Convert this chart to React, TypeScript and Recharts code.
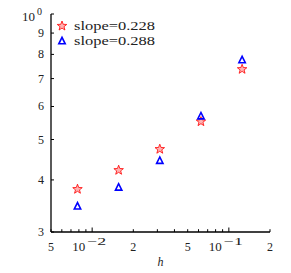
import { ScatterChart, Scatter, XAxis, YAxis, Legend } from 'recharts';

const hValues = [1 / 128, 1 / 64, 1 / 32, 1 / 16, 1 / 8];
const starValues = [3.8, 4.22, 4.74, 5.52, 7.37];
const triangleValues = [3.46, 3.84, 4.45, 5.69, 7.76];
const seriesNames = ['slope=0.228', 'slope=0.288'];

const xTicks = [
  0.005, 0.006, 0.007, 0.008, 0.009, 0.01, 0.02, 0.03, 0.04, 0.05, 0.06, 0.07, 0.08, 0.09, 0.1, 0.2
];
const xLabels: Array<{ value: number; base: string; sup?: string }> = [
  { value: 0.005, base: '5' },
  { value: 0.01, base: '10', sup: '−2' },
  { value: 0.02, base: '2' },
  { value: 0.05, base: '5' },
  { value: 0.1, base: '10', sup: '−1' },
  { value: 0.2, base: '2' }
];
const yTicks = [3, 4, 5, 6, 7, 8, 9, 10];
const yLabels: Array<{ value: number; base: string; sup?: string }> = [
  { value: 3, base: '3' },
  { value: 4, base: '4' },
  { value: 5, base: '5' },
  { value: 6, base: '6' },
  { value: 7, base: '7' },
  { value: 8, base: '8' },
  { value: 9, base: '9' },
  { value: 10, base: '10', sup: '0' }
];

const starData = hValues.map((h, i) => ({ h, v: starValues[i] }));
const triangleData = hValues.map((h, i) => ({ h, v: triangleValues[i] }));

const FONT = '"Liberation Serif", serif';
const TEXT = '#222';
const near = (a: number, b: number) => Math.abs(a - b) < 1e-9;
const isMajor = (v: number) => near(v, 0.01) || near(v, 0.1);

function starPath(cx: number, cy: number, r: number) {
  const pts: string[] = [];
  for (let i = 0; i < 10; i++) {
    const rad = i % 2 === 0 ? r : r * 0.42;
    const a = -Math.PI / 2 + (i * Math.PI) / 5;
    pts.push(`${cx + rad * Math.cos(a)},${cy + rad * Math.sin(a)}`);
  }
  return pts.join(' ');
}

function Star({ cx, cy }: any) {
  return (
    <polygon
      points={starPath(cx, cy, 5)}
      fill="rgba(255,0,0,0.3)"
      stroke="#ff0000"
      strokeWidth={0.8}
    />
  );
}

function Triangle({ cx, cy }: any) {
  return (
    <polygon
      points={`${cx},${cy - 3.6} ${cx - 3.2},${cy + 2.8} ${cx + 3.2},${cy + 2.8}`}
      fill="none"
      stroke="#0000ff"
      strokeWidth={1.6}
      strokeLinejoin="miter"
    />
  );
}

function BottomTick({ x, y, payload }: any) {
  const v = payload.value;
  const len = isMajor(v) ? 4.5 : 2.8;
  const lab = xLabels.find((l) => near(l.value, v));
  return (
    <g>
      <line x1={x} y1={y} x2={x} y2={y - len} stroke="#000" strokeWidth={1} />
      {lab && !lab.sup && (
        <text x={x} y={y + 19} textAnchor="middle" fontFamily={FONT} fontSize={12} fill={TEXT}>
          {lab.base}
        </text>
      )}
      {lab && lab.sup && (
        <g fontFamily={FONT} fill={TEXT}>
          <text x={x - 20} y={y + 19} fontSize={12} textLength={13} lengthAdjust="spacingAndGlyphs">
            {lab.base}
          </text>
          <text x={x - 5} y={y + 13} fontSize={10} textLength={19} lengthAdjust="spacingAndGlyphs">
            {lab.sup}
          </text>
        </g>
      )}
    </g>
  );
}

function TopTick({ x, y, payload }: any) {
  const len = isMajor(payload.value) ? 4.5 : 2.8;
  return <line x1={x} y1={y} x2={x} y2={y + len} stroke="#000" strokeWidth={1} />;
}

function LeftTick({ x, y, payload }: any) {
  const v = payload.value;
  const lab = yLabels.find((l) => near(l.value, v));
  return (
    <g>
      <line x1={x} y1={y} x2={x + 3} y2={y} stroke="#000" strokeWidth={1} />
      {lab && !lab.sup && (
        <text x={x - 7} y={y + 4} textAnchor="end" fontFamily={FONT} fontSize={12} fill={TEXT}>
          {lab.base}
        </text>
      )}
      {lab && lab.sup && (
        <g fontFamily={FONT} fill={TEXT}>
          <text x={x - 29} y={y + 7} fontSize={12} textLength={13} lengthAdjust="spacingAndGlyphs">
            {lab.base}
          </text>
          <text x={x - 14} y={y + 1} fontSize={10}>
            {lab.sup}
          </text>
        </g>
      )}
    </g>
  );
}

function RightTick({ x, y }: any) {
  return <line x1={x} y1={y} x2={x - 3} y2={y} stroke="#000" strokeWidth={1} />;
}

function LegendBox() {
  return (
    <svg width={110} height={34} style={{ display: 'block' }}>
      <Star cx={10} cy={10} />
      <Triangle cx={10} cy={25} />
      <text x={22} y={13.5} fontFamily={FONT} fontSize={11.5} fill={TEXT} textLength={81} lengthAdjust="spacingAndGlyphs">
        {seriesNames[0]}
      </text>
      <text x={22} y={29} fontFamily={FONT} fontSize={11.5} fill={TEXT} textLength={81} lengthAdjust="spacingAndGlyphs">
        {seriesNames[1]}
      </text>
    </svg>
  );
}

export default function App() {
  return (
    <div style={{ position: 'absolute', left: 0, top: 0, background: '#fff' }}>
      <ScatterChart width={291} height={273} margin={{ top: 14, right: 21, left: 0, bottom: 0 }}>
        <XAxis
          xAxisId="b"
          dataKey="h"
          type="number"
          scale="log"
          domain={[0.005, 0.2]}
          allowDataOverflow
          ticks={xTicks}
          interval={0}
          height={41}
          tickSize={0}
          tickMargin={0}
          axisLine={{ stroke: '#000', strokeWidth: 1.3 }}
          tick={<BottomTick />}
          label={({ viewBox }: any) => (
            <text
              x={viewBox.x + viewBox.width / 2}
              y={viewBox.y + 34}
              textAnchor="middle"
              fontFamily={FONT}
              fontStyle="italic"
              fontSize={12}
              fill={TEXT}
            >
              h
            </text>
          )}
        />
        <XAxis
          xAxisId="t"
          orientation="top"
          dataKey="h"
          type="number"
          scale="log"
          domain={[0.005, 0.2]}
          allowDataOverflow
          ticks={xTicks}
          interval={0}
          height={0}
          tickSize={0}
          tickMargin={0}
          axisLine={{ stroke: '#000', strokeWidth: 1.3 }}
          tick={<TopTick />}
        />
        <YAxis
          yAxisId="l"
          dataKey="v"
          type="number"
          scale="log"
          domain={[3, 10]}
          allowDataOverflow
          ticks={yTicks}
          interval={0}
          width={51}
          tickSize={0}
          tickMargin={0}
          axisLine={{ stroke: '#000', strokeWidth: 1.3 }}
          tick={<LeftTick />}
        />
        <YAxis
          yAxisId="r"
          orientation="right"
          dataKey="v"
          type="number"
          scale="log"
          domain={[3, 10]}
          allowDataOverflow
          ticks={yTicks}
          interval={0}
          width={0}
          tickSize={0}
          tickMargin={0}
          axisLine={{ stroke: '#000', strokeWidth: 1.3 }}
          tick={<RightTick />}
        />
        <Legend
          layout="vertical"
          align="center"
          verticalAlign="middle"
          content={() => <LegendBox />}
          wrapperStyle={{ position: 'absolute', left: 52, top: 16, width: 110, height: 34 }}
        />
        <Scatter
          name={seriesNames[0]}
          data={starData}
          xAxisId="b"
          yAxisId="l"
          shape={<Star />}
          isAnimationActive={false}
        />
        <Scatter
          name={seriesNames[1]}
          data={triangleData}
          xAxisId="b"
          yAxisId="l"
          shape={<Triangle />}
          isAnimationActive={false}
        />
      </ScatterChart>
    </div>
  );
}
